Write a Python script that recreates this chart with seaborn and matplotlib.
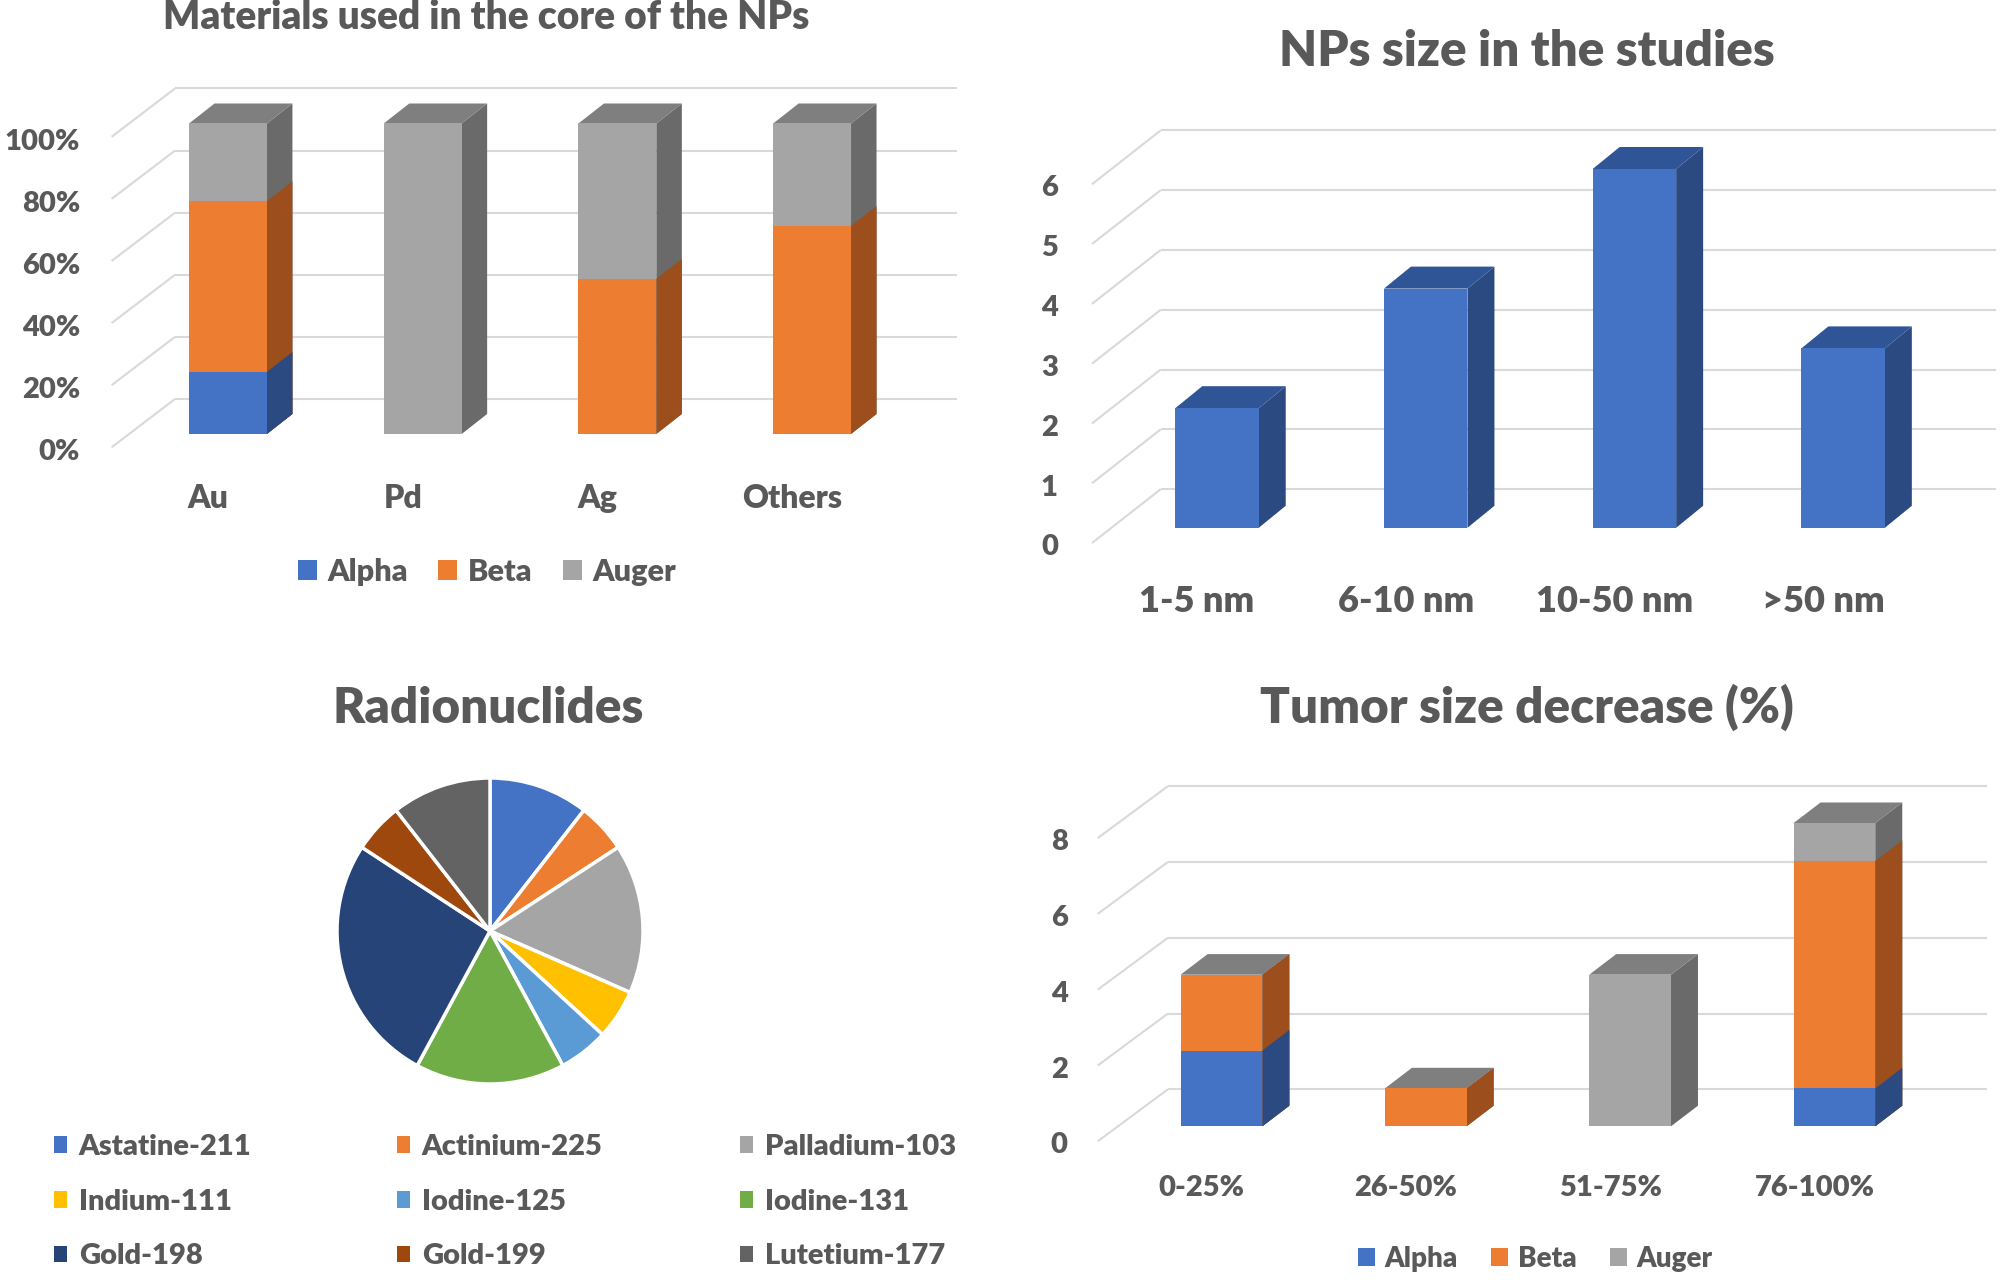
import matplotlib
matplotlib.use("Agg")
import matplotlib.pyplot as plt
import seaborn as sns
import numpy as np
from matplotlib.patches import Polygon, Patch

# ---------------- data ----------------
materials = ["Au", "Pd", "Ag", "Others"]
mat_alpha = [20, 0, 0, 0]
mat_beta = [55, 0, 50, 67]
mat_auger = [25, 100, 50, 33]
mat_ticks = [0, 20, 40, 60, 80, 100]
mat_tick_labels = ["0%", "20%", "40%", "60%", "80%", "100%"]

size_cats = ["1-5 nm", "6-10 nm", "10-50 nm", ">50 nm"]
size_counts = [2, 4, 6, 3]
size_ticks = [0, 1, 2, 3, 4, 5, 6]
size_tick_labels = ["0", "1", "2", "3", "4", "5", "6"]

radionuclides = ["Astatine-211", "Actinium-225", "Palladium-103",
                 "Indium-111", "Iodine-125", "Iodine-131",
                 "Gold-198", "Gold-199", "Lutetium-177"]
radio_counts = [2, 1, 3, 1, 1, 3, 5, 1, 2]

tumor_cats = ["0-25%", "26-50%", "51-75%", "76-100%"]
tumor_alpha = [2, 0, 0, 1]
tumor_beta = [2, 1, 0, 6]
tumor_auger = [0, 0, 4, 1]
tumor_ticks = [0, 2, 4, 6, 8]
tumor_tick_labels = ["0", "2", "4", "6", "8"]

series_names = ["Alpha", "Beta", "Auger"]

titles = ["Materials used in the core of the NPs", "NPs size in the studies",
          "Radionuclides", "Tumor size decrease (%)"]

# ---------------- style ----------------
sns.set_theme(style="white")
plt.rcParams["font.family"] = ["Lato", "DejaVu Sans"]
WEIGHT = "heavy"
plt.rcParams["font.weight"] = WEIGHT

TXT = "#595959"
GRID = "#D9D9D9"
FRONT = {"Alpha": "#4472C4", "Beta": "#ED7D31", "Auger": "#A5A5A5"}
SIDE = {"Alpha": "#2C4A82", "Beta": "#9C4F1D", "Auger": "#6A6A6A"}
TOP_GRAY = "#7F7F7F"
TOP_BLUE = "#2F5597"
PIE_COLORS = ["#4472C4", "#ED7D31", "#A5A5A5", "#FFC000", "#5B9BD5",
              "#70AD47", "#264478", "#9E480E", "#636363"]

W, H, DPI = 2008, 1284, 100
fig = plt.figure(figsize=(W / DPI, H / DPI), dpi=DPI)
fig.patch.set_facecolor("white")


def px_axes(L, T, R, B):
    return fig.add_axes([L / W, 1 - B / H, (R - L) / W, (B - T) / H])


class Geo:
    """pixel geometry of a pseudo-3D Excel column panel"""
    def __init__(self, **kw):
        self.__dict__.update(kw)

    def xd(self, xpx):
        return (xpx - self.c0) / self.s

    def yd(self, ypx):
        return (self.y0 - ypx) / self.k


def bars3d(ax, g, cats, layers, top_color):
    ddx, ddy = g.depth[0] / g.s, g.depth[1] / g.k
    for li, (vals, fc, sc) in enumerate(layers):
        n0 = len(ax.patches)
        sns.barplot(x=cats, y=vals, order=cats, color=fc, saturation=1,
                    width=g.w, errorbar=None, ax=ax, linewidth=0, zorder=3)
        bars = list(ax.patches[n0:])
        for p in bars:
            x0, b, w, h = p.get_x(), p.get_y(), p.get_width(), p.get_height()
            if h <= 0:
                continue
            x1, t = x0 + w, b + h
            ax.add_patch(Polygon([(x1, b), (x1 + ddx, b + ddy), (x1 + ddx, t + ddy), (x1, t)],
                                 closed=True, facecolor=sc, edgecolor="none",
                                 zorder=2 + li * 0.01))
            if li == 0:
                ax.add_patch(Polygon([(x0, t), (x0 + ddx, t + ddy), (x1 + ddx, t + ddy), (x1, t)],
                                     closed=True, facecolor=top_color, edgecolor="none",
                                     zorder=2))


def grid3d(ax, g, ticks, labels, fs):
    back = g.back / g.k
    front = g.floor / g.k
    for v, lab in zip(ticks, labels):
        yb = v + back
        ax.plot([g.xd(g.wall_l), g.xd(g.wall_r)], [yb, yb], color=GRID, lw=1.5,
                zorder=1, clip_on=False, solid_capstyle="butt")
        ax.plot([g.xd(g.wall_l), g.xd(g.floor_x)], [yb, v - front], color=GRID, lw=1.5,
                zorder=1, clip_on=False, solid_capstyle="butt")
        ax.text(g.xd(g.lab_r), v - g.lab_off / g.k, lab, ha="right", va="baseline",
                fontsize=fs, color=TXT, fontweight=WEIGHT)


def xlabels(ax, g, cats, fs):
    for i, c in enumerate(cats):
        ax.text(i + g.xshift / g.s, g.yd(g.xlab_base), c, ha="center", va="baseline",
                fontsize=fs, color=TXT, fontweight=WEIGHT)


def finish(ax, g, L, T, R, B):
    ax.set_xlim(g.xd(L), g.xd(R))
    ax.set_ylim(g.yd(B), g.yd(T))
    ax.set_axis_off()


def series_legend(x, y, fs, pad, colspace):
    handles = [Patch(facecolor=FRONT[n], edgecolor="none") for n in series_names]
    leg = fig.legend(handles, series_names, loc="center left",
                     bbox_to_anchor=(x / W, 1 - y / H), bbox_transform=fig.transFigure,
                     ncol=3, frameon=False, borderpad=0, borderaxespad=0,
                     handlelength=0.62, handleheight=0.62, handletextpad=pad,
                     columnspacing=colspace, prop={"size": fs, "weight": WEIGHT})
    for t in leg.get_texts():
        t.set_color(TXT)
    return leg


# ---------------- panel 1 : materials ----------------
g1 = Geo(c0=228, s=194.7, y0=434, k=3.105, w=0.40, depth=(25.5, 20), back=35,
         wall_l=175, wall_r=957, floor_x=111.6, floor=13.3, lab_r=80, lab_off=26.5,
         xlab_base=508, xshift=-20)
R1 = (20, 60, 1000, 540)
ax1 = px_axes(*R1)
a = np.array(mat_alpha); b = np.array(mat_beta); c = np.array(mat_auger)
grid3d(ax1, g1, mat_ticks, mat_tick_labels, 21)
bars3d(ax1, g1, materials,
       [(a + b + c, FRONT["Auger"], SIDE["Auger"]),
        (a + b, FRONT["Beta"], SIDE["Beta"]),
        (a, FRONT["Alpha"], SIDE["Alpha"])], TOP_GRAY)
xlabels(ax1, g1, materials, 23)
finish(ax1, g1, *R1)
fig.text(486 / W, 1 - 29 / H, titles[0], ha="center", va="baseline",
         fontsize=28, color=TXT, fontweight=WEIGHT)
series_legend(298, 572, 22, 0.34, 1.0)

# ---------------- panel 2 : NP size ----------------
g2 = Geo(c0=1217, s=208.7, y0=527.8, k=59.8, w=0.40, depth=(27, 22), back=38.6,
         wall_l=1160.7, wall_r=1996, floor_x=1091.9, floor=15.3, lab_r=1058, lab_off=27.5,
         xlab_base=611.5, xshift=-20)
R2 = (1010, 80, 2005, 640)
ax2 = px_axes(*R2)
grid3d(ax2, g2, size_ticks, size_tick_labels, 21)
bars3d(ax2, g2, size_cats, [(np.array(size_counts), FRONT["Alpha"], SIDE["Alpha"])], TOP_BLUE)
xlabels(ax2, g2, size_cats, 26)
finish(ax2, g2, *R2)
fig.text(1527 / W, 1 - 66.3 / H, titles[1], ha="center", va="baseline",
         fontsize=35.5, color=TXT, fontweight=WEIGHT)

# ---------------- panel 3 : radionuclides pie ----------------
cx, cy, r = 490, 931, 153
side = 2.5 * r
ax3 = px_axes(cx - side / 2, cy - side / 2, cx + side / 2, cy + side / 2)
ax3.pie(radio_counts, colors=PIE_COLORS, startangle=90, counterclock=False,
        wedgeprops=dict(edgecolor="white", linewidth=2.5))
fig.text(488.5 / W, 1 - 723.3 / H, titles[2], ha="center", va="baseline",
         fontsize=35.5, color=TXT, fontweight=WEIGHT)
col_x = [54, 397, 740]
for ci in range(3):
    idx = [ci, ci + 3, ci + 6]
    hs = [Patch(facecolor=PIE_COLORS[i], edgecolor="none") for i in idx]
    leg = fig.legend(hs, [radionuclides[i] for i in idx], loc="upper left",
                     bbox_to_anchor=(col_x[ci] / W, 1 - 1134 / H),
                     bbox_transform=fig.transFigure, ncol=1, frameon=False,
                     borderpad=0, borderaxespad=0, handlelength=0.45,
                     handleheight=0.5, handletextpad=0.4, labelspacing=0.98,
                     prop={"size": 21, "weight": WEIGHT})
    for t in leg.get_texts():
        t.set_color(TXT)

# ---------------- panel 4 : tumor size decrease ----------------
g4 = Geo(c0=1221.5, s=204.3, y0=1126.3, k=37.9, w=0.40, depth=(27, 20.6), back=37,
         wall_l=1168, wall_r=1986.5, floor_x=1097.7, floor=15, lab_r=1067.5, lab_off=27,
         xlab_base=1196, xshift=-20)
R4 = (1010, 760, 2005, 1230)
ax4 = px_axes(*R4)
ta = np.array(tumor_alpha); tb = np.array(tumor_beta); tc = np.array(tumor_auger)
grid3d(ax4, g4, tumor_ticks, tumor_tick_labels, 21)
bars3d(ax4, g4, tumor_cats,
       [(ta + tb + tc, FRONT["Auger"], SIDE["Auger"]),
        (ta + tb, FRONT["Beta"], SIDE["Beta"]),
        (ta, FRONT["Alpha"], SIDE["Alpha"])], TOP_GRAY)
xlabels(ax4, g4, tumor_cats, 21)
finish(ax4, g4, *R4)
fig.text(1527 / W, 1 - 722.8 / H, titles[3], ha="center", va="baseline",
         fontsize=35.5, color=TXT, fontweight=WEIGHT)
series_legend(1358, 1258.6, 20, 0.34, 1.2)

fig.savefig("out.png", dpi=DPI, facecolor="white")
